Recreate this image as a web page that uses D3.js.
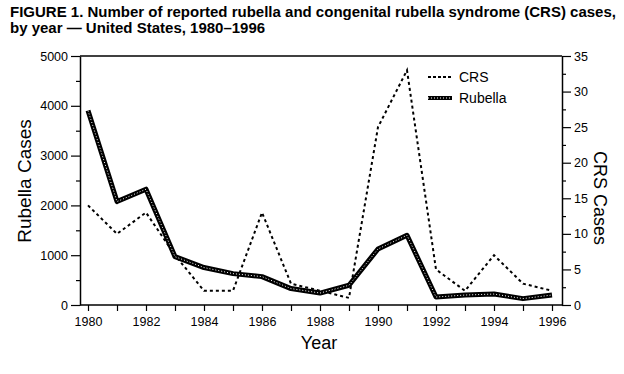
<!DOCTYPE html>
<html>
<head>
<meta charset="utf-8">
<script src="https://cdn.jsdelivr.net/npm/d3@7"></script>
<style>
  body { margin: 0; background: #fff; }
  svg text { font-family: "Liberation Sans", Arial, sans-serif; fill: #000; }
</style>
</head>
<body>
<svg id="chart" width="624" height="374"></svg>
<script>
// values
var years = [1980,1981,1982,1983,1984,1985,1986,1987,1988,1989,1990,1991,1992,1993,1994,1995,1996];
var rubella = [3904,2077,2325,970,752,630,570,330,240,396,1125,1401,160,200,220,128,200];
var crs = [14,10,13,7,2,2,13,3,2,1,25,33,5,2,7,3,2];
var yearTicks = [1980,1982,1984,1986,1988,1990,1992,1994,1996];
var leftTicks = [0,1000,2000,3000,4000,5000];
var rightTicks = [0,5,10,15,20,25,30,35];

var svg = d3.select("#chart");
var pLeft = 80, pRight = 562, pTop = 56, pBottom = 305;

var x = d3.scaleLinear().domain([1980,1996]).range([88,552]);
var yL = d3.scaleLinear().domain([0,5000]).range([pBottom,pTop]);
var yR = d3.scaleLinear().domain([0,35]).range([pBottom,pTop]);

// title
var title = svg.append("text").attr("x", 10).attr("font-weight", "bold").attr("font-size", 15);
title.append("tspan").attr("x", 10).attr("y", 17).text("FIGURE 1. Number of reported rubella and congenital rubella syndrome (CRS) cases,");
title.append("tspan").attr("x", 10).attr("y", 33).text("by year \u2014 United States, 1980\u20131996");

// top frame line
svg.append("line").attr("x1", pLeft).attr("x2", pRight).attr("y1", pTop).attr("y2", pTop).attr("stroke", "#000").attr("stroke-width", 1.5);

// left axis
svg.append("g").attr("transform", "translate(" + pLeft + ",0)")
  .call(d3.axisLeft(yL).tickValues(leftTicks).tickFormat(d3.format("d")).tickSize(9).tickPadding(3).tickSizeOuter(0));
svg.append("g").attr("transform", "translate(" + pLeft + ",0)")
  .call(d3.axisLeft(yL).tickValues(d3.range(500,5000,1000)).tickSize(4).tickFormat(""))
  .select(".domain").remove();

// right axis
svg.append("g").attr("transform", "translate(" + pRight + ",0)")
  .call(d3.axisRight(yR).tickValues(rightTicks).tickSize(9).tickPadding(3).tickSizeOuter(0));
svg.append("g").attr("transform", "translate(" + pRight + ",0)")
  .call(d3.axisRight(yR).tickValues(d3.range(2.5,35,5)).tickSize(4).tickFormat(""))
  .select(".domain").remove();

// bottom axis
var gb = svg.append("g").attr("transform", "translate(0," + pBottom + ")")
  .call(d3.axisBottom(x).tickValues(years).tickSize(6).tickPadding(6)
    .tickFormat(function(d){ return yearTicks.indexOf(d) >= 0 ? d : ""; }));
gb.select(".domain").attr("d", "M" + pLeft + ",0H" + pRight);

svg.selectAll(".domain").attr("stroke-width", 1.5);
svg.selectAll(".tick line").attr("stroke-width", 1.2);
svg.selectAll(".tick text").attr("font-size", 12.5).attr("font-family", "Liberation Sans, Arial, sans-serif");

// axis titles
svg.append("text").attr("transform", "translate(31,181) rotate(-90)")
  .attr("text-anchor", "middle").attr("font-size", 19).text("Rubella Cases");
svg.append("text").attr("transform", "translate(594,198) rotate(90)")
  .attr("text-anchor", "middle").attr("font-size", 18).text("CRS Cases");
svg.append("text").attr("x", 319).attr("y", 349)
  .attr("text-anchor", "middle").attr("font-size", 18).text("Year");

// lines
var lineL = d3.line().x(function(d, i){ return x(years[i]); }).y(function(d){ return yL(d); });
var lineR = d3.line().x(function(d, i){ return x(years[i]); }).y(function(d){ return yR(d); });

svg.append("path").datum(crs).attr("d", lineR).attr("fill", "none")
  .attr("stroke", "#000").attr("stroke-width", 2).attr("stroke-dasharray", "3,3");

svg.append("path").datum(rubella).attr("d", lineL).attr("fill", "none")
  .attr("stroke", "#000").attr("stroke-width", 5).attr("stroke-linejoin", "round");
svg.append("path").datum(rubella).attr("d", lineL).attr("fill", "none")
  .attr("stroke", "#fff").attr("stroke-width", 1).attr("stroke-dasharray", "1,2");

// legend
var lg = svg.append("g");
lg.append("line").attr("x1", 428).attr("x2", 452).attr("y1", 77).attr("y2", 77)
  .attr("stroke", "#000").attr("stroke-width", 2).attr("stroke-dasharray", "3,2");
lg.append("text").attr("x", 459).attr("y", 82).attr("font-size", 14).text("CRS");
lg.append("line").attr("x1", 428).attr("x2", 452).attr("y1", 98).attr("y2", 98)
  .attr("stroke", "#000").attr("stroke-width", 4);
lg.append("line").attr("x1", 428).attr("x2", 452).attr("y1", 98).attr("y2", 98)
  .attr("stroke", "#fff").attr("stroke-width", 1).attr("stroke-dasharray", "1,2");
lg.append("text").attr("x", 459).attr("y", 103).attr("font-size", 14).text("Rubella");
</script>
</body>
</html>
